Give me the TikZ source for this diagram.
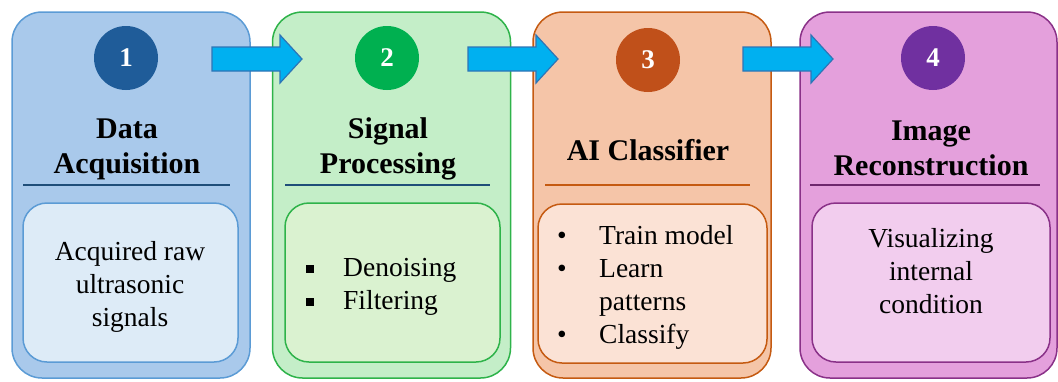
\documentclass[tikz,border=0pt]{standalone}
\usepackage{fontspec}
\setmainfont{Liberation Serif}
\usetikzlibrary{positioning}

\definecolor{bluefill}{HTML}{A9C9EB}
\definecolor{blueline}{HTML}{5B9BD5}
\definecolor{bluein}{HTML}{DDEBF7}
\definecolor{bluedot}{HTML}{1F5C99}
\definecolor{greenfill}{HTML}{C4EEC8}
\definecolor{greenline}{HTML}{2EB34A}
\definecolor{greenin}{HTML}{DAF2D0}
\definecolor{greendot}{HTML}{00B050}
\definecolor{orangefill}{HTML}{F5C5A8}
\definecolor{orangeline}{HTML}{C55A11}
\definecolor{orangein}{HTML}{FBE2D5}
\definecolor{orangedot}{HTML}{C0501A}
\definecolor{violetfill}{HTML}{E4A0DC}
\definecolor{violetline}{HTML}{8A3188}
\definecolor{violetin}{HTML}{F2CDEE}
\definecolor{violetdot}{HTML}{7030A0}
\definecolor{rulecol}{HTML}{1F4E79}
\definecolor{arrfill}{HTML}{00B0F0}
\definecolor{arrline}{HTML}{2E75B6}

\begin{document}
\begin{tikzpicture}[x=1pt, y=-1pt,
  stage/.style={draw, line width=1.5pt, rounded corners=30pt, minimum width=238pt, minimum height=366pt},
  inbox/.style={draw, line width=1.5pt, rounded corners=24pt, minimum height=159pt},
  badge/.style={circle, minimum size=64pt, inner sep=0pt, text=white, font=\fontsize{27}{30}\selectfont\bfseries},
  head/.style={align=center, inner sep=0pt, font=\fontsize{30}{35}\selectfont\bfseries},
  body/.style={align=center, inner sep=0pt, font=\fontsize{27.5}{33}\selectfont},
  items/.style={align=left, inner sep=0pt, anchor=west, font=\fontsize{27.5}{33}\selectfont},
  sep/.style={line width=1.5pt},
  blockarr/.style={fill=arrfill, draw=arrline, line width=1.2pt}
]
\useasboundingbox (0,0) rectangle (1058,381);

% stage boxes
\node[stage, fill=bluefill, draw=blueline] (acq) at (131,195) {};
\node[stage, fill=greenfill, draw=greenline] (proc) at (391.5,195) {};
\node[stage, fill=orangefill, draw=orangeline] (clf) at (652,195) {};
\node[stage, fill=violetfill, draw=violetline, minimum width=257pt] (rec) at (928.5,195) {};

% number badges
\node[badge, fill=bluedot] (n1) at (126,58) {1};
\node[badge, fill=greendot] (n2) at (387,58) {2};
\node[badge, fill=orangedot] (n3) at (648,60) {3};
\node[badge, fill=violetdot] (n4) at (933,58) {4};

% titles
\node[head] (t1) at (127,149) {Data\\Acquisition};
\node[head] (t2) at (388,149) {Signal\\Processing};
\node[head] (t3) at (648,150) {AI Classifier};
\node[head] (t4) at (931,148) {Image\\Reconstruction};

\draw[sep, draw=rulecol] (23,185) -- (230,185);
\draw[sep, draw=rulecol] (285,185) -- (490,185);
\draw[sep, draw=orangeline] (545,185) -- (750,185);
\draw[sep, draw=violetline!80!black] (810,185) -- (1040,185);

% inner boxes
\node[inbox, fill=bluein, draw=blueline, minimum width=215pt] (d1) at (130.5,282.5) {};
\node[inbox, fill=greenin, draw=greenline, minimum width=215pt] (d2) at (392.5,282.5) {};
\node[inbox, fill=orangein, draw=orangeline, minimum width=229pt] (d3) at (652.5,283.5) {};
\node[inbox, fill=violetin, draw=violetline, minimum width=238pt] (d4) at (931,282.5) {};

\node[body] (x1) at (130,287) {Acquired raw\\ultrasonic\\signals};
\node[items] (x2) at (306,287) {\makebox[37pt][l]{\raisebox{4pt}{\rule{8pt}{8pt}}}Denoising\\
  \makebox[37pt][l]{\raisebox{4pt}{\rule{8pt}{8pt}}}Filtering};
\node[items] (x3) at (557,287) {\makebox[42pt][l]{\textbullet}Train model\\
  \makebox[42pt][l]{\textbullet}Learn\\
  \hspace*{42pt}patterns\\
  \makebox[42pt][l]{\textbullet}Classify};
\node[body] (x4) at (931,271) {Visualizing\\internal\\condition};

% flow arrows
\foreach \ax in {212,468,743}
  \draw[blockarr] (\ax,47) -- ++(68,0) -- ++(0,-12) -- ++(22,24) -- ++(-22,24) -- ++(0,-12) -- ++(-68,0) -- cycle;
\end{tikzpicture}
\end{document}
